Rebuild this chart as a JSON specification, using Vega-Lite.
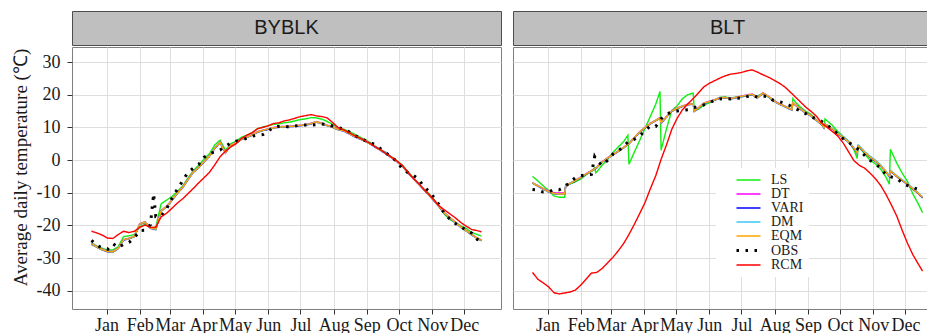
{
  "$schema": "https://vega.github.io/schema/vega-lite/v6.json",
  "background": "white",
  "padding": {"left": 10, "top": 10, "right": 0, "bottom": 0},
  "datasets": {
    "temps": [
      {"site":"BYBLK","day":1,"LS":-25.4,"DT":-25.6,"VARI":-25.8,"DM":-25.7,"EQM":-25.7,"OBS":-24.6,"RCM":-21.8},
      {"site":"BYBLK","day":6,"LS":-26.3,"DT":-26.5,"VARI":-26.7,"DM":-26.6,"EQM":-26.6,"OBS":-26.1,"RCM":-22.3},
      {"site":"BYBLK","day":11,"LS":-27.0,"DT":-27.3,"VARI":-27.5,"DM":-27.4,"EQM":-27.4,"OBS":-26.9,"RCM":-23.0},
      {"site":"BYBLK","day":16,"LS":-27.6,"DT":-27.9,"VARI":-28.1,"DM":-28.0,"EQM":-28.0,"OBS":-27.3,"RCM":-23.9},
      {"site":"BYBLK","day":21,"LS":-27.5,"DT":-28.0,"VARI":-28.2,"DM":-28.1,"EQM":-28.1,"OBS":-25.6,"RCM":-24.0},
      {"site":"BYBLK","day":26,"LS":-26.5,"DT":-26.9,"VARI":-27.1,"DM":-27.0,"EQM":-27.0,"OBS":-26.8,"RCM":-22.8},
      {"site":"BYBLK","day":31,"LS":-23.4,"DT":-24.3,"VARI":-24.5,"DM":-24.4,"EQM":-24.4,"OBS":-25.8,"RCM":-21.8},
      {"site":"BYBLK","day":36,"LS":-23.2,"DT":-23.9,"VARI":-24.1,"DM":-24.0,"EQM":-24.0,"OBS":-25.2,"RCM":-22.2},
      {"site":"BYBLK","day":41,"LS":-22.8,"DT":-23.3,"VARI":-23.5,"DM":-23.4,"EQM":-23.4,"OBS":-23.8,"RCM":-21.8},
      {"site":"BYBLK","day":46,"LS":-20.5,"DT":-19.5,"VARI":-19.7,"DM":-19.6,"EQM":-19.6,"OBS":-21.6,"RCM":-20.6},
      {"site":"BYBLK","day":51,"LS":-19.6,"DT":-18.9,"VARI":-19.1,"DM":-19.0,"EQM":-19.0,"OBS":-21.5,"RCM":-19.9},
      {"site":"BYBLK","day":56,"LS":-20.8,"DT":-20.7,"VARI":-20.9,"DM":-20.8,"EQM":-20.8,"OBS":-19.8,"RCM":-20.6},
      {"site":"BYBLK","day":59,"OBS":-10.3},
      {"site":"BYBLK","day":61,"LS":-20.5,"DT":-21.1,"VARI":-21.3,"DM":-21.2,"EQM":-21.2,"OBS":-17.3,"RCM":-20.6},
      {"site":"BYBLK","day":66,"LS":-13.4,"DT":-15.4,"VARI":-15.7,"DM":-15.6,"EQM":-15.6,"OBS":-17.2,"RCM":-17.4},
      {"site":"BYBLK","day":71,"LS":-12.3,"DT":-14.1,"VARI":-14.3,"DM":-14.2,"EQM":-14.2,"OBS":-15.0,"RCM":-16.3},
      {"site":"BYBLK","day":76,"LS":-11.2,"DT":-12.2,"VARI":-12.4,"DM":-12.3,"EQM":-12.3,"OBS":-11.8,"RCM":-14.8},
      {"site":"BYBLK","day":81,"LS":-9.6,"DT":-10.1,"VARI":-10.3,"DM":-10.2,"EQM":-10.2,"OBS":-9.0,"RCM":-13.2},
      {"site":"BYBLK","day":86,"LS":-8.0,"DT":-8.3,"VARI":-8.5,"DM":-8.4,"EQM":-8.4,"OBS":-6.4,"RCM":-11.9},
      {"site":"BYBLK","day":91,"LS":-5.5,"DT":-5.9,"VARI":-6.1,"DM":-6.0,"EQM":-6.0,"OBS":-3.8,"RCM":-10.3},
      {"site":"BYBLK","day":96,"LS":-3.3,"DT":-3.6,"VARI":-3.8,"DM":-3.7,"EQM":-3.7,"OBS":-2.5,"RCM":-8.7},
      {"site":"BYBLK","day":101,"LS":-1.6,"DT":-2.2,"VARI":-2.4,"DM":-2.3,"EQM":-2.3,"OBS":-1.4,"RCM":-7.0},
      {"site":"BYBLK","day":106,"LS":0.3,"DT":-0.4,"VARI":-0.6,"DM":-0.5,"EQM":-0.5,"OBS":0.8,"RCM":-5.4},
      {"site":"BYBLK","day":111,"LS":1.9,"DT":1.3,"VARI":1.1,"DM":1.2,"EQM":1.2,"OBS":1.9,"RCM":-3.8},
      {"site":"BYBLK","day":116,"LS":4.6,"DT":3.7,"VARI":3.5,"DM":3.6,"EQM":3.6,"OBS":2.5,"RCM":-1.5},
      {"site":"BYBLK","day":121,"LS":6.1,"DT":5.5,"VARI":5.3,"DM":5.4,"EQM":5.4,"OBS":3.1,"RCM":1.0},
      {"site":"BYBLK","day":126,"LS":3.0,"DT":2.3,"VARI":2.1,"DM":2.2,"EQM":2.2,"OBS":4.2,"RCM":2.7},
      {"site":"BYBLK","day":131,"LS":5.0,"DT":4.7,"VARI":4.5,"DM":4.6,"EQM":4.6,"OBS":5.2,"RCM":4.0},
      {"site":"BYBLK","day":136,"LS":5.8,"DT":5.4,"VARI":5.2,"DM":5.3,"EQM":5.3,"OBS":5.8,"RCM":5.0},
      {"site":"BYBLK","day":141,"LS":7.0,"DT":6.5,"VARI":6.3,"DM":6.4,"EQM":6.4,"OBS":6.1,"RCM":6.6},
      {"site":"BYBLK","day":146,"LS":7.6,"DT":7.1,"VARI":6.9,"DM":7.0,"EQM":7.0,"OBS":6.7,"RCM":7.6},
      {"site":"BYBLK","day":151,"LS":8.3,"DT":7.8,"VARI":7.6,"DM":7.7,"EQM":7.7,"OBS":7.3,"RCM":8.4},
      {"site":"BYBLK","day":156,"LS":9.6,"DT":8.7,"VARI":8.5,"DM":8.6,"EQM":8.6,"OBS":7.6,"RCM":9.6},
      {"site":"BYBLK","day":161,"LS":10.1,"DT":9.2,"VARI":9.0,"DM":9.1,"EQM":9.1,"OBS":7.8,"RCM":10.0},
      {"site":"BYBLK","day":166,"LS":10.5,"DT":9.6,"VARI":9.4,"DM":9.5,"EQM":9.5,"OBS":8.8,"RCM":10.5},
      {"site":"BYBLK","day":171,"LS":10.9,"DT":10.0,"VARI":9.8,"DM":9.9,"EQM":9.9,"OBS":10.1,"RCM":11.2},
      {"site":"BYBLK","day":176,"LS":11.1,"DT":10.2,"VARI":10.0,"DM":10.1,"EQM":10.1,"OBS":10.3,"RCM":11.4},
      {"site":"BYBLK","day":181,"LS":11.4,"DT":10.3,"VARI":10.1,"DM":10.2,"EQM":10.2,"OBS":10.3,"RCM":12.0},
      {"site":"BYBLK","day":186,"LS":11.6,"DT":10.4,"VARI":10.2,"DM":10.3,"EQM":10.3,"OBS":10.1,"RCM":12.3},
      {"site":"BYBLK","day":191,"LS":12.0,"DT":10.5,"VARI":10.3,"DM":10.4,"EQM":10.4,"OBS":10.4,"RCM":12.8},
      {"site":"BYBLK","day":196,"LS":12.4,"DT":10.7,"VARI":10.5,"DM":10.6,"EQM":10.6,"OBS":10.7,"RCM":13.3},
      {"site":"BYBLK","day":201,"LS":12.6,"DT":10.9,"VARI":10.7,"DM":10.8,"EQM":10.8,"OBS":10.7,"RCM":13.6},
      {"site":"BYBLK","day":206,"LS":13.0,"DT":11.3,"VARI":11.1,"DM":11.2,"EQM":11.2,"OBS":10.7,"RCM":13.9},
      {"site":"BYBLK","day":211,"LS":12.9,"DT":11.8,"VARI":11.6,"DM":11.7,"EQM":11.7,"OBS":10.8,"RCM":13.5},
      {"site":"BYBLK","day":216,"LS":12.5,"DT":11.3,"VARI":11.1,"DM":11.2,"EQM":11.2,"OBS":11.0,"RCM":13.3},
      {"site":"BYBLK","day":221,"LS":11.8,"DT":10.7,"VARI":10.5,"DM":10.6,"EQM":10.6,"OBS":10.9,"RCM":12.9},
      {"site":"BYBLK","day":226,"LS":10.9,"DT":10.2,"VARI":10.0,"DM":10.1,"EQM":10.1,"OBS":10.4,"RCM":11.5},
      {"site":"BYBLK","day":231,"LS":9.9,"DT":9.5,"VARI":9.3,"DM":9.4,"EQM":9.4,"OBS":10.0,"RCM":10.0},
      {"site":"BYBLK","day":236,"LS":9.5,"DT":9.1,"VARI":8.9,"DM":9.0,"EQM":9.0,"OBS":9.5,"RCM":9.3},
      {"site":"BYBLK","day":241,"LS":8.8,"DT":8.3,"VARI":8.1,"DM":8.2,"EQM":8.2,"OBS":8.7,"RCM":8.5},
      {"site":"BYBLK","day":246,"LS":8.0,"DT":7.4,"VARI":7.2,"DM":7.3,"EQM":7.3,"OBS":7.6,"RCM":7.6},
      {"site":"BYBLK","day":251,"LS":7.1,"DT":6.7,"VARI":6.5,"DM":6.6,"EQM":6.6,"OBS":6.9,"RCM":6.8},
      {"site":"BYBLK","day":256,"LS":6.3,"DT":6.0,"VARI":5.8,"DM":5.9,"EQM":5.9,"OBS":6.0,"RCM":6.0},
      {"site":"BYBLK","day":261,"LS":5.4,"DT":5.1,"VARI":4.9,"DM":5.0,"EQM":5.0,"OBS":5.2,"RCM":5.1},
      {"site":"BYBLK","day":266,"LS":4.2,"DT":4.1,"VARI":3.9,"DM":4.0,"EQM":4.0,"OBS":4.8,"RCM":4.0},
      {"site":"BYBLK","day":271,"LS":3.2,"DT":3.1,"VARI":2.9,"DM":3.0,"EQM":3.0,"OBS":3.4,"RCM":3.1},
      {"site":"BYBLK","day":276,"LS":2.2,"DT":2.0,"VARI":1.8,"DM":2.4,"EQM":1.9,"OBS":2.1,"RCM":2.0},
      {"site":"BYBLK","day":281,"LS":1.0,"DT":0.9,"VARI":0.7,"DM":0.8,"EQM":0.8,"OBS":1.0,"RCM":0.9},
      {"site":"BYBLK","day":286,"LS":-0.2,"DT":-0.3,"VARI":-0.5,"DM":-0.4,"EQM":-0.4,"OBS":-0.5,"RCM":-0.3},
      {"site":"BYBLK","day":291,"LS":-1.5,"DT":-1.7,"VARI":-1.9,"DM":-1.8,"EQM":-1.8,"OBS":-2.6,"RCM":-1.6},
      {"site":"BYBLK","day":296,"LS":-3.4,"DT":-3.6,"VARI":-3.8,"DM":-3.7,"EQM":-3.7,"OBS":-3.8,"RCM":-3.6},
      {"site":"BYBLK","day":301,"LS":-5.3,"DT":-5.4,"VARI":-5.6,"DM":-5.5,"EQM":-5.5,"OBS":-4.6,"RCM":-5.5},
      {"site":"BYBLK","day":306,"LS":-7.0,"DT":-7.1,"VARI":-7.3,"DM":-7.2,"EQM":-7.2,"OBS":-5.8,"RCM":-7.1},
      {"site":"BYBLK","day":311,"LS":-8.8,"DT":-8.9,"VARI":-9.1,"DM":-9.0,"EQM":-9.0,"OBS":-8.1,"RCM":-8.9},
      {"site":"BYBLK","day":316,"LS":-10.3,"DT":-10.6,"VARI":-10.8,"DM":-10.7,"EQM":-10.7,"OBS":-9.6,"RCM":-10.5},
      {"site":"BYBLK","day":321,"LS":-12.2,"DT":-12.4,"VARI":-12.6,"DM":-12.5,"EQM":-12.5,"OBS":-11.6,"RCM":-12.4},
      {"site":"BYBLK","day":326,"LS":-14.4,"DT":-14.4,"VARI":-14.6,"DM":-14.5,"EQM":-14.5,"OBS":-14.0,"RCM":-14.2},
      {"site":"BYBLK","day":331,"LS":-16.8,"DT":-16.3,"VARI":-16.5,"DM":-16.4,"EQM":-16.4,"OBS":-16.7,"RCM":-15.4},
      {"site":"BYBLK","day":336,"LS":-18.3,"DT":-17.7,"VARI":-17.9,"DM":-17.8,"EQM":-17.8,"OBS":-18.2,"RCM":-16.6},
      {"site":"BYBLK","day":341,"LS":-19.2,"DT":-19.1,"VARI":-19.3,"DM":-19.2,"EQM":-19.2,"OBS":-19.5,"RCM":-17.8},
      {"site":"BYBLK","day":346,"LS":-20.2,"DT":-20.5,"VARI":-20.7,"DM":-20.6,"EQM":-20.6,"OBS":-20.5,"RCM":-19.2},
      {"site":"BYBLK","day":351,"LS":-21.0,"DT":-21.6,"VARI":-21.8,"DM":-21.7,"EQM":-21.7,"OBS":-21.5,"RCM":-20.3},
      {"site":"BYBLK","day":356,"LS":-22.2,"DT":-22.8,"VARI":-23.0,"DM":-22.9,"EQM":-22.9,"OBS":-22.4,"RCM":-21.3},
      {"site":"BYBLK","day":361,"LS":-22.8,"DT":-23.8,"VARI":-24.0,"DM":-23.9,"EQM":-23.9,"OBS":-24.3,"RCM":-21.6},
      {"site":"BYBLK","day":365,"LS":-23.3,"DT":-24.5,"VARI":-24.7,"DM":-24.6,"EQM":-24.6,"OBS":-24.8,"RCM":-22.0},

      {"site":"BLT","day":1,"LS":-5.0,"DT":-6.9,"VARI":-7.1,"DM":-7.0,"EQM":-7.0,"OBS":-9.0,"RCM":-34.4},
      {"site":"BLT","day":6,"LS":-6.4,"DT":-7.8,"VARI":-8.0,"DM":-7.9,"EQM":-7.9,"OBS":-9.2,"RCM":-36.5},
      {"site":"BLT","day":11,"LS":-7.9,"DT":-8.7,"VARI":-8.9,"DM":-8.8,"EQM":-8.8,"OBS":-9.8,"RCM":-37.6},
      {"site":"BLT","day":16,"LS":-9.3,"DT":-9.5,"VARI":-9.8,"DM":-9.7,"EQM":-9.7,"OBS":-9.8,"RCM":-38.8},
      {"site":"BLT","day":21,"LS":-11.0,"DT":-10.0,"VARI":-10.3,"DM":-10.2,"EQM":-10.2,"OBS":-9.0,"RCM":-40.6},
      {"site":"BLT","day":26,"LS":-11.4,"DT":-10.1,"VARI":-10.5,"DM":-10.4,"EQM":-10.4,"OBS":-9.1,"RCM":-41.0},
      {"site":"BLT","day":31,"LS":-11.4,"DT":-10.1,"VARI":-10.5,"DM":-10.4,"EQM":-10.4,"OBS":-8.2,"RCM":-40.7},
      {"site":"BLT","day":32,"LS":-7.4,"DT":-7.9,"VARI":-8.1,"DM":-8.0,"EQM":-8.0},
      {"site":"BLT","day":36,"LS":-7.3,"DT":-7.1,"VARI":-7.3,"DM":-7.2,"EQM":-7.2,"OBS":-6.8,"RCM":-40.4},
      {"site":"BLT","day":41,"LS":-6.7,"DT":-6.2,"VARI":-6.4,"DM":-6.3,"EQM":-6.3,"OBS":-5.4,"RCM":-39.8},
      {"site":"BLT","day":46,"LS":-5.8,"DT":-5.2,"VARI":-5.4,"DM":-5.3,"EQM":-5.3,"OBS":-4.8,"RCM":-38.3},
      {"site":"BLT","day":51,"LS":-4.5,"DT":-4.2,"VARI":-4.4,"DM":-4.3,"EQM":-4.3,"OBS":-4.5,"RCM":-36.5},
      {"site":"BLT","day":56,"LS":-3.5,"DT":-3.2,"VARI":-3.4,"DM":-3.3,"EQM":-3.3,"OBS":-4.4,"RCM":-34.6},
      {"site":"BLT","day":59,"LS":-2.4,"OBS":1.0},
      {"site":"BLT","day":60,"LS":-3.9},
      {"site":"BLT","day":61,"LS":-3.6,"DT":-2.2,"VARI":-2.4,"DM":-2.3,"EQM":-2.3,"OBS":-0.2,"RCM":-34.4},
      {"site":"BLT","day":66,"LS":-1.6,"DT":-0.5,"VARI":-0.7,"DM":-0.6,"EQM":-0.6,"OBS":-1.6,"RCM":-33.2},
      {"site":"BLT","day":71,"LS":0.1,"DT":0.7,"VARI":0.5,"DM":0.6,"EQM":0.6,"OBS":-0.1,"RCM":-31.5},
      {"site":"BLT","day":76,"LS":2.3,"DT":1.7,"VARI":1.5,"DM":1.6,"EQM":1.6,"OBS":1.8,"RCM":-29.8},
      {"site":"BLT","day":81,"LS":4.0,"DT":2.8,"VARI":2.6,"DM":2.7,"EQM":2.7,"OBS":2.8,"RCM":-27.8},
      {"site":"BLT","day":86,"LS":5.6,"DT":3.9,"VARI":3.7,"DM":3.8,"EQM":3.8,"OBS":4.2,"RCM":-25.6},
      {"site":"BLT","day":90,"LS":7.6},
      {"site":"BLT","day":91,"LS":-1.3,"DT":5.1,"VARI":4.9,"DM":5.0,"EQM":5.0,"OBS":5.8,"RCM":-22.8},
      {"site":"BLT","day":96,"LS":2.4,"DT":6.9,"VARI":6.7,"DM":6.8,"EQM":6.8,"OBS":6.3,"RCM":-19.7},
      {"site":"BLT","day":101,"LS":6.0,"DT":8.7,"VARI":8.5,"DM":8.6,"EQM":8.6,"OBS":7.3,"RCM":-16.4},
      {"site":"BLT","day":106,"LS":9.7,"DT":10.0,"VARI":9.8,"DM":9.9,"EQM":9.9,"OBS":9.0,"RCM":-13.0},
      {"site":"BLT","day":111,"LS":13.4,"DT":11.3,"VARI":11.1,"DM":11.2,"EQM":11.2,"OBS":10.4,"RCM":-8.8},
      {"site":"BLT","day":116,"LS":17.1,"DT":12.2,"VARI":12.0,"DM":12.1,"EQM":12.1,"OBS":10.3,"RCM":-4.8},
      {"site":"BLT","day":120,"LS":21.0,"DT":13.0,"VARI":12.8,"DM":12.9,"EQM":12.9},
      {"site":"BLT","day":121,"LS":3.0,"DT":11.5,"VARI":11.3,"DM":11.4,"EQM":11.4,"OBS":12.6,"RCM":0.2},
      {"site":"BLT","day":126,"LS":9.5,"DT":13.3,"VARI":13.1,"DM":13.2,"EQM":13.2,"OBS":14.0,"RCM":4.6},
      {"site":"BLT","day":131,"LS":15.2,"DT":15.1,"VARI":14.9,"DM":15.0,"EQM":15.0,"OBS":14.7,"RCM":9.4},
      {"site":"BLT","day":136,"LS":16.6,"DT":15.9,"VARI":15.7,"DM":15.8,"EQM":15.8,"OBS":15.0,"RCM":12.8},
      {"site":"BLT","day":141,"LS":18.8,"DT":16.6,"VARI":16.4,"DM":16.5,"EQM":16.5,"OBS":15.2,"RCM":15.4},
      {"site":"BLT","day":146,"LS":20.0,"DT":17.1,"VARI":16.9,"DM":17.0,"EQM":17.0,"OBS":15.4,"RCM":17.2},
      {"site":"BLT","day":151,"LS":20.5,"DT":17.3,"VARI":17.1,"DM":17.2,"EQM":17.2,"OBS":16.0,"RCM":18.8},
      {"site":"BLT","day":152,"LS":15.0,"DT":15.1,"VARI":14.9,"DM":15.0,"EQM":15.0},
      {"site":"BLT","day":156,"LS":15.6,"DT":16.1,"VARI":15.9,"DM":16.0,"EQM":16.0,"OBS":16.4,"RCM":20.6},
      {"site":"BLT","day":161,"LS":16.8,"DT":17.5,"VARI":17.3,"DM":17.4,"EQM":17.4,"OBS":16.9,"RCM":22.4},
      {"site":"BLT","day":166,"LS":17.5,"DT":18.0,"VARI":17.8,"DM":17.9,"EQM":17.9,"OBS":17.5,"RCM":23.5},
      {"site":"BLT","day":171,"LS":18.4,"DT":18.5,"VARI":18.3,"DM":18.4,"EQM":18.4,"OBS":18.3,"RCM":24.3},
      {"site":"BLT","day":176,"LS":19.2,"DT":19.1,"VARI":18.9,"DM":19.0,"EQM":19.0,"OBS":18.7,"RCM":25.1},
      {"site":"BLT","day":181,"LS":19.3,"DT":19.2,"VARI":19.0,"DM":19.1,"EQM":19.1,"OBS":18.8,"RCM":25.8},
      {"site":"BLT","day":186,"LS":19.0,"DT":18.9,"VARI":18.7,"DM":18.8,"EQM":18.8,"OBS":18.7,"RCM":26.3},
      {"site":"BLT","day":191,"LS":19.3,"DT":19.2,"VARI":19.0,"DM":19.1,"EQM":19.1,"OBS":18.9,"RCM":26.5},
      {"site":"BLT","day":196,"LS":19.4,"DT":19.6,"VARI":19.4,"DM":19.5,"EQM":19.5,"OBS":19.0,"RCM":26.8},
      {"site":"BLT","day":201,"LS":19.6,"DT":19.9,"VARI":19.7,"DM":19.8,"EQM":19.8,"OBS":19.4,"RCM":27.3},
      {"site":"BLT","day":206,"LS":20.0,"DT":20.2,"VARI":20.0,"DM":20.1,"EQM":20.1,"OBS":19.8,"RCM":27.6},
      {"site":"BLT","day":211,"LS":19.6,"DT":19.2,"VARI":19.0,"DM":19.1,"EQM":19.1,"OBS":19.2,"RCM":26.9},
      {"site":"BLT","day":216,"LS":20.4,"DT":20.6,"VARI":20.4,"DM":20.5,"EQM":20.5,"OBS":19.6,"RCM":26.1},
      {"site":"BLT","day":221,"LS":19.3,"DT":19.6,"VARI":19.4,"DM":19.5,"EQM":19.5,"OBS":19.4,"RCM":25.4},
      {"site":"BLT","day":226,"LS":18.2,"DT":18.3,"VARI":18.1,"DM":18.2,"EQM":18.2,"OBS":18.2,"RCM":24.5},
      {"site":"BLT","day":231,"LS":17.2,"DT":17.3,"VARI":17.1,"DM":17.2,"EQM":17.2,"OBS":17.9,"RCM":23.6},
      {"site":"BLT","day":236,"LS":16.5,"DT":16.6,"VARI":16.4,"DM":16.5,"EQM":16.5,"OBS":17.4,"RCM":22.5},
      {"site":"BLT","day":241,"LS":15.6,"DT":15.8,"VARI":15.6,"DM":15.7,"EQM":15.7,"OBS":16.7,"RCM":21.0},
      {"site":"BLT","day":243,"LS":15.4,"DT":15.5,"VARI":15.3,"DM":15.4,"EQM":15.4},
      {"site":"BLT","day":244,"LS":18.8,"DT":17.6,"VARI":17.4,"DM":17.5,"EQM":17.5},
      {"site":"BLT","day":246,"LS":17.9,"DT":17.1,"VARI":16.9,"DM":17.0,"EQM":17.0,"OBS":15.8,"RCM":19.4},
      {"site":"BLT","day":251,"LS":16.2,"DT":15.7,"VARI":15.5,"DM":15.6,"EQM":15.6,"OBS":15.0,"RCM":17.8},
      {"site":"BLT","day":256,"LS":14.9,"DT":14.6,"VARI":14.4,"DM":14.5,"EQM":14.5,"OBS":14.2,"RCM":16.2},
      {"site":"BLT","day":261,"LS":14.0,"DT":13.6,"VARI":13.4,"DM":13.5,"EQM":13.5,"OBS":13.2,"RCM":14.9},
      {"site":"BLT","day":266,"LS":12.3,"DT":12.3,"VARI":12.1,"DM":12.2,"EQM":12.2,"OBS":12.6,"RCM":13.4},
      {"site":"BLT","day":271,"LS":10.7,"DT":11.0,"VARI":10.8,"DM":10.9,"EQM":10.9,"OBS":11.8,"RCM":11.3},
      {"site":"BLT","day":273,"LS":10.0,"DT":10.0,"VARI":9.8,"DM":9.9,"EQM":9.9},
      {"site":"BLT","day":274,"LS":12.6,"DT":11.1,"VARI":10.9,"DM":11.0,"EQM":11.0},
      {"site":"BLT","day":276,"LS":12.0,"DT":10.7,"VARI":10.5,"DM":10.8,"EQM":10.6,"OBS":10.7,"RCM":10.0},
      {"site":"BLT","day":281,"LS":10.6,"DT":9.6,"VARI":9.4,"DM":9.7,"EQM":9.5,"OBS":9.4,"RCM":8.7},
      {"site":"BLT","day":286,"LS":8.7,"DT":8.1,"VARI":7.9,"DM":8.2,"EQM":8.0,"OBS":7.9,"RCM":7.3},
      {"site":"BLT","day":291,"LS":7.2,"DT":7.0,"VARI":6.8,"DM":7.1,"EQM":6.9,"OBS":6.5,"RCM":5.2},
      {"site":"BLT","day":296,"LS":5.8,"DT":5.6,"VARI":5.4,"DM":5.7,"EQM":5.5,"OBS":5.5,"RCM":2.5},
      {"site":"BLT","day":301,"LS":3.2,"DT":3.7,"VARI":3.5,"DM":3.8,"EQM":3.6,"OBS":4.2,"RCM":-0.2},
      {"site":"BLT","day":304,"LS":0.5,"DT":2.3,"VARI":2.1,"DM":2.4,"EQM":2.2},
      {"site":"BLT","day":305,"LS":4.3,"DT":4.4,"VARI":4.2,"DM":4.6,"EQM":4.3},
      {"site":"BLT","day":306,"LS":4.0,"DT":4.2,"VARI":4.0,"DM":4.4,"EQM":4.1,"OBS":3.1,"RCM":-1.6},
      {"site":"BLT","day":311,"LS":1.8,"DT":2.4,"VARI":2.2,"DM":2.6,"EQM":2.3,"OBS":1.4,"RCM":-2.5},
      {"site":"BLT","day":316,"LS":0.0,"DT":1.0,"VARI":0.8,"DM":1.2,"EQM":0.9,"OBS":-0.1,"RCM":-4.0},
      {"site":"BLT","day":321,"LS":-1.2,"DT":-0.2,"VARI":-0.4,"DM":0.0,"EQM":-0.3,"OBS":-1.2,"RCM":-5.7},
      {"site":"BLT","day":326,"LS":-2.8,"DT":-1.7,"VARI":-1.9,"DM":-1.5,"EQM":-1.8,"OBS":-2.5,"RCM":-7.8},
      {"site":"BLT","day":331,"LS":-5.3,"DT":-3.6,"VARI":-3.8,"DM":-3.5,"EQM":-3.7,"OBS":-4.6,"RCM":-10.6},
      {"site":"BLT","day":334,"LS":-7.4,"DT":-4.8,"VARI":-5.0,"DM":-4.7,"EQM":-4.9},
      {"site":"BLT","day":335,"LS":3.3,"DT":-3.3,"VARI":-3.5,"DM":-3.2,"EQM":-3.4},
      {"site":"BLT","day":336,"LS":2.6,"DT":-3.5,"VARI":-3.7,"DM":-3.4,"EQM":-3.6,"OBS":-5.2,"RCM":-13.8},
      {"site":"BLT","day":341,"LS":-1.0,"DT":-4.9,"VARI":-5.1,"DM":-4.8,"EQM":-5.0,"OBS":-5.6,"RCM":-17.2},
      {"site":"BLT","day":346,"LS":-4.0,"DT":-6.1,"VARI":-6.3,"DM":-6.0,"EQM":-6.2,"OBS":-7.0,"RCM":-21.5},
      {"site":"BLT","day":351,"LS":-6.6,"DT":-7.3,"VARI":-7.5,"DM":-7.2,"EQM":-7.4,"OBS":-7.8,"RCM":-25.5},
      {"site":"BLT","day":356,"LS":-10.4,"DT":-8.7,"VARI":-8.9,"DM":-8.6,"EQM":-8.8,"OBS":-8.4,"RCM":-29.0},
      {"site":"BLT","day":361,"LS":-13.4,"DT":-10.1,"VARI":-10.3,"DM":-10.0,"EQM":-10.2,"OBS":-9.0,"RCM":-31.8},
      {"site":"BLT","day":365,"LS":-16.1,"DT":-11.4,"VARI":-11.6,"DM":-11.3,"EQM":-11.5,"OBS":-9.6,"RCM":-34.0}
    ]
  },
  "spacing": 10,
  "resolve": {
    "scale": {"x": "independent", "y": "independent"},
    "legend": {"color": "independent", "strokeDash": "independent", "strokeWidth": "independent"}
  },
  "hconcat": [
    {
      "spacing": 0,
      "resolve": {"legend": {"color": "independent", "strokeDash": "independent", "strokeWidth": "independent"}},
      "vconcat": [
        {
          "width": 429,
          "height": 34,
          "view": {"fill": "#BFBFBF", "stroke": "#4D4D4D", "strokeWidth": 1},
          "data": {"values": [{"site": "BYBLK"}]},
          "mark": {"type": "text", "font": "Liberation Sans", "fontSize": 20, "color": "#1A1A1A"},
          "encoding": {"text": {"field": "site", "type": "nominal"}}
        },
        {
          "width": 429,
          "height": 262,
          "view": {"fill": "white", "stroke": "#7F7F7F", "strokeWidth": 1},
          "data": {"name": "temps"},
          "transform": [
            {"filter": "datum.site === 'BYBLK'"},
            {"fold": ["LS", "DT", "VARI", "DM", "EQM", "OBS", "RCM"], "as": ["series", "temp"]},
            {"filter": "isValid(datum.temp)"}
          ],
          "mark": {"type": "line", "interpolate": "linear"},
          "encoding": {
            "x": {
              "field": "day", "type": "quantitative",
              "scale": {"domain": [-17.2, 383.2], "nice": false, "zero": false},
              "axis": {
                "title": null,
                "values": [15, 46, 74, 105, 135, 166, 196, 227, 258, 288, 319, 349],
                "labelExpr": "timeFormat(datetime(2001, 0, datum.value), '%b')",
                "labelOverlap": false, "labelFlush": false,
                "grid": true, "tickSize": 5, "labelPadding": 2
              }
            },
            "y": {
              "field": "temp", "type": "quantitative",
              "scale": {"domain": [-45.6, 34.6], "nice": false, "zero": false},
              "axis": {
                "title": "Average daily temperature (℃)",
                "titleFontSize": 19,
                "titleY": 120,
                "values": [-40, -30, -20, -10, 0, 10, 20, 30],
                "labelExpr": "'' + datum.value",
                "grid": true, "tickSize": 5, "labelPadding": 7, "titlePadding": 6
              }
            },
            "color": {
              "field": "series", "type": "nominal",
              "scale": {"domain": ["LS", "DT", "VARI", "DM", "EQM", "OBS", "RCM"], "range": ["#11EE11", "#FF00FF", "#0000FF", "#3FC8F5", "#FFA500", "#000000", "#FF0000"]},
              "legend": null
            },
            "strokeDash": {
              "field": "series", "type": "nominal",
              "scale": {"domain": ["LS", "DT", "VARI", "DM", "EQM", "OBS", "RCM"], "range": [[1, 0], [1, 0], [1, 0], [1, 0], [1, 0], [2.5, 6.5], [1, 0]]},
              "legend": null
            },
            "strokeWidth": {
              "field": "series", "type": "nominal",
              "scale": {"type": "ordinal", "domain": ["LS", "DT", "VARI", "DM", "EQM", "OBS", "RCM"], "range": [1.4, 1.4, 1.4, 1.4, 1.4, 3, 1.4]},
              "legend": null
            }
          }
        }
      ]
    },
    {
      "spacing": 0,
      "resolve": {"legend": {"color": "independent", "strokeDash": "independent", "strokeWidth": "independent"}},
      "vconcat": [
        {
          "width": 415,
          "height": 34,
          "view": {"fill": "#BFBFBF", "stroke": "#4D4D4D", "strokeWidth": 1},
          "data": {"values": [{"site": "BLT"}]},
          "mark": {"type": "text", "font": "Liberation Sans", "fontSize": 20, "color": "#1A1A1A", "dx": 7},
          "encoding": {"text": {"field": "site", "type": "nominal"}}
        },
        {
          "width": 415,
          "height": 262,
          "view": {"fill": "white", "stroke": "#7F7F7F", "strokeWidth": 1},
          "data": {"name": "temps"},
          "transform": [
            {"filter": "datum.site === 'BLT'"},
            {"fold": ["LS", "DT", "VARI", "DM", "EQM", "OBS", "RCM"], "as": ["series", "temp"]},
            {"filter": "isValid(datum.temp)"}
          ],
          "mark": {"type": "line", "interpolate": "linear"},
          "encoding": {
            "x": {
              "field": "day", "type": "quantitative",
              "scale": {"domain": [-17.2, 370.1], "nice": false, "zero": false},
              "axis": {
                "title": null,
                "values": [15, 46, 74, 105, 135, 166, 196, 227, 258, 288, 319, 349],
                "labelExpr": "timeFormat(datetime(2001, 0, datum.value), '%b')",
                "labelOverlap": false, "labelFlush": false,
                "grid": true, "tickSize": 5, "labelPadding": 2
              }
            },
            "y": {
              "field": "temp", "type": "quantitative",
              "scale": {"domain": [-45.6, 34.6], "nice": false, "zero": false},
              "axis": {
                "title": null, "labels": false, "ticks": false,
                "values": [-40, -30, -20, -10, 0, 10, 20, 30],
                "grid": true
              }
            },
            "color": {
              "field": "series", "type": "nominal",
              "scale": {"domain": ["LS", "DT", "VARI", "DM", "EQM", "OBS", "RCM"], "range": ["#11EE11", "#FF00FF", "#0000FF", "#3FC8F5", "#FFA500", "#000000", "#FF0000"]},
              "legend": {"title": null}
            },
            "strokeDash": {
              "field": "series", "type": "nominal",
              "scale": {"domain": ["LS", "DT", "VARI", "DM", "EQM", "OBS", "RCM"], "range": [[1, 0], [1, 0], [1, 0], [1, 0], [1, 0], [2.5, 6.5], [1, 0]]},
              "legend": {"title": null}
            },
            "strokeWidth": {
              "field": "series", "type": "nominal",
              "scale": {"type": "ordinal", "domain": ["LS", "DT", "VARI", "DM", "EQM", "OBS", "RCM"], "range": [1.4, 1.4, 1.4, 1.4, 1.4, 3, 1.4]},
              "legend": {"title": null}
            }
          }
        }
      ]
    }
  ],
  "config": {
    "axis": {
      "labelFont": "Liberation Serif",
      "labelFontSize": 18,
      "labelColor": "#1A1A1A",
      "tickColor": "#333333",
      "gridColor": "#DEDEDE",
      "gridWidth": 1,
      "domain": false,
      "titleFont": "Liberation Serif",
      "titleFontSize": 18,
      "titleFontWeight": "normal",
      "titleColor": "#1A1A1A"
    },
    "legend": {
      "orient": "none",
      "legendX": 203,
      "legendY": 121,
      "fillColor": "white",
      "padding": 5,
      "symbolType": "M-2,0H2",
      "symbolSize": 144,
      "symbolOffset": 20,
      "labelOffset": 15,
      "labelFont": "Liberation Serif",
      "labelFontSize": 14,
      "labelColor": "#1A1A1A",
      "rowPadding": 0
    }
  }
}
